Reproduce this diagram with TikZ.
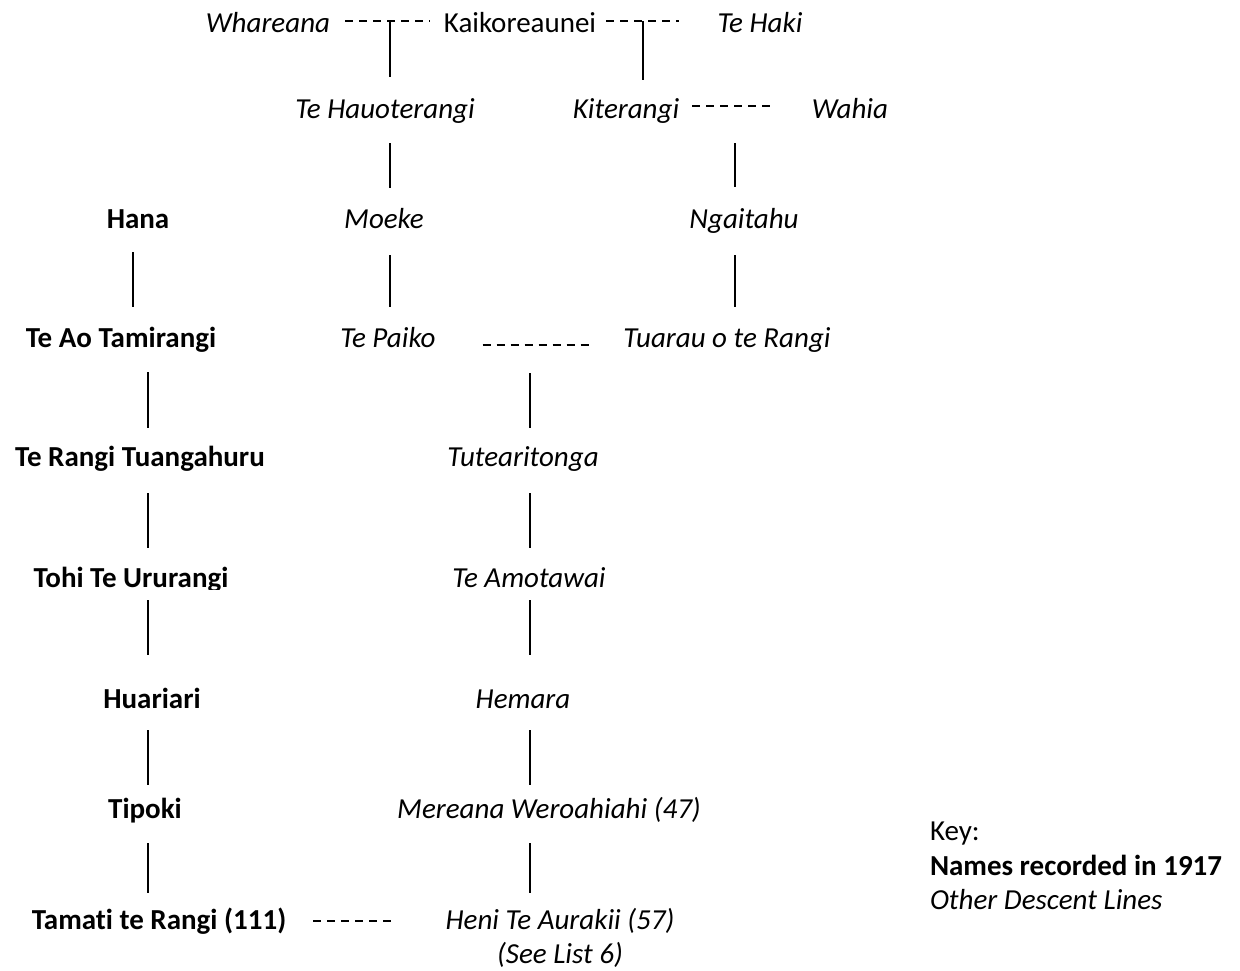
\documentclass[tikz,border=0pt]{standalone}
\usepackage{fontspec}
\setmainfont{Carlito}[Ligatures=NoCommon]
\usetikzlibrary{calc}
\begin{document}
\begin{tikzpicture}[x=1pt,y=-1pt,
  every node/.style={inner sep=0pt,outer sep=0pt,anchor=base,font=\fontsize{29}{35}\selectfont},
  rec/.style={font=\fontsize{29}{35}\selectfont\bfseries},
  oth/.style={font=\fontsize{29}{35}\selectfont\itshape},
  line/.style={line width=1.1pt},
  union/.style={line width=1.1pt,dash pattern=on 8pt off 6pt}]
\useasboundingbox (0,0) rectangle (1240,970);

% Columns of the descent lines
\coordinate (cA) at (133,0);
\coordinate (cB) at (148,0);
\coordinate (cC) at (390,0);
\coordinate (cD) at (530,0);
\coordinate (cF) at (735,0);

% Top generation
\node[oth] (whareana) at (268,32) {Whareana};
\node (kaiko) at (520,32) {Kaikoreaunei};
\node[oth] (tehaki) at (760,32) {Te Haki};
\draw[union,shorten <=15pt,shorten >=14pt]
  ([yshift=11pt]whareana.base east) -- ([yshift=11pt]kaiko.base west);
\draw[union,shorten <=10pt,shorten >=39pt]
  ([yshift=11pt]kaiko.base east) -- ([yshift=11pt]tehaki.base west);
\coordinate (j1) at (390,21);
\coordinate (j2) at (643,21);

% Second generation
\node[oth] (hauo) at (385,118) {Te Hauoterangi};
\node[oth] (kite) at (626,118) {Kiterangi};
\node[oth] (wahia) at (850,118) {Wahia};
\draw[union,shorten <=13pt,shorten >=37pt]
  ([yshift=12pt]kite.base east) -- ([yshift=12pt]wahia.base west);
\draw[line,shorten >=41pt] (j1) -- (j1 |- hauo.base);
\draw[line,shorten >=38pt] (j2) -- (j2 |- kite.base);

% Third generation
\node[rec] (hana) at (138,228) {Hana};
\node[oth] (moeke) at (384,228) {Moeke};
\node[oth] (ngai) at (744,228) {Ngaitahu};
\draw[line,shorten <=25pt,shorten >=40pt] (hauo.base -| cC) -- (moeke.base -| cC);
\draw[line,shorten <=25pt,shorten >=41pt] (kite.base -| cF) -- (ngai.base -| cF);

% Fourth generation
\node[rec] (teao) at (121,347) {Te Ao Tamirangi};
\node[oth] (paiko) at (388,347) {Te Paiko};
\node[oth] (tuarau) at (727,347) {Tuarau o te Rangi};
\draw[union,shorten <=47pt,shorten >=31pt]
  ([yshift=2pt]paiko.base east) -- ([yshift=2pt]tuarau.base west);
\coordinate (j3) at (530,345);
\draw[line,shorten <=24pt,shorten >=40pt] (hana.base -| cA) -- (teao.base -| cA);
\draw[line,shorten <=27pt,shorten >=40pt] (moeke.base -| cC) -- (paiko.base -| cC);
\draw[line,shorten <=27pt,shorten >=40pt] (ngai.base -| cF) -- (tuarau.base -| cF);

% Fifth generation
\node[rec] (rangi) at (140,466) {Te Rangi Tuangahuru};
\node[oth] (tutea) at (523,466) {Tutearitonga};
\draw[line,shorten <=25pt,shorten >=38pt] (teao.base -| cB) -- (rangi.base -| cB);
\draw[line,shorten <=28pt,shorten >=38pt] (j3) -- (j3 |- tutea.base);

% Sixth generation (the lower edge of the recorded name is cut off)
\begin{scope}
  \clip (0,0) rectangle (320,589);
  \node[rec] (tohi) at (131,587) {Tohi Te Ururangi};
\end{scope}
\node[oth] (amota) at (529,587) {Te Amotawai};
\draw[line,shorten <=27pt,shorten >=39pt] (rangi.base -| cB) -- (tohi.base -| cB);
\draw[line,shorten <=27pt,shorten >=39pt] (tutea.base -| cD) -- (amota.base -| cD);

% Seventh generation
\node[rec] (huar) at (152,708) {Huariari};
\node[oth] (hemara) at (523,708) {Hemara};
\draw[line,shorten <=13pt,shorten >=53pt] (tohi.base -| cB) -- (huar.base -| cB);
\draw[line,shorten <=13pt,shorten >=53pt] (amota.base -| cD) -- (hemara.base -| cD);

% Eighth generation
\node[rec] (tipoki) at (145,818) {Tipoki};
\node[oth] (mere) at (549,818) {Mereana Weroahiahi (47)};
\draw[line,shorten <=22pt,shorten >=33pt] (huar.base -| cB) -- (tipoki.base -| cB);
\draw[line,shorten <=22pt,shorten >=33pt] (hemara.base -| cD) -- (mere.base -| cD);

% Ninth generation
\node[rec] (tamati) at (159,929) {Tamati te Rangi (111)};
\node[oth] (heni) at (560,929) {Heni Te Aurakii (57)};
\node[oth] (seelist) at (560,963) {(See List 6)};
\draw[union,shorten <=27pt,shorten >=53pt]
  ([yshift=8pt]tamati.base east) -- ([yshift=8pt]heni.base west);
\draw[line,shorten <=25pt,shorten >=36pt] (mere.base -| cD) -- (heni.base -| cD);
\draw[line,shorten <=25pt,shorten >=36pt] (tipoki.base -| cB) -- (tamati.base -| cB);

% Key
\node[anchor=base west] (key1) at (930,840) {Key:};
\node[rec,anchor=base west] (key2) at (930,875) {Names recorded in 1917};
\node[oth,anchor=base west] (key3) at (930,909) {Other Descent Lines};
\end{tikzpicture}
\end{document}
